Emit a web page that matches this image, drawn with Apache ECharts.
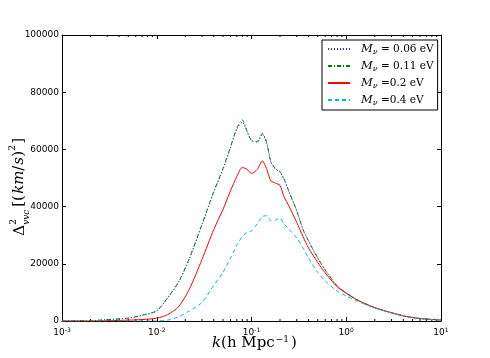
<!DOCTYPE html>
<html>
<head>
<meta charset="utf-8">
<script src="https://cdn.jsdelivr.net/npm/echarts@6/dist/echarts.min.js"></script>
<style>
  html, body { margin: 0; padding: 0; background: #fff; }
  #myChart1 { width: 490px; height: 358px; }
</style>
</head>
<body>
<div id="myChart1"></div>
<script>
// k in h/Mpc, shared by all curves
var kVals = [0.001, 0.002, 0.003, 0.005, 0.007, 0.01, 0.013, 0.017, 0.022, 0.03,
    0.04, 0.05, 0.06, 0.07, 0.08, 0.09, 0.1, 0.115, 0.13, 0.145,
    0.16, 0.18, 0.2, 0.22, 0.25, 0.3, 0.35, 0.4, 0.5, 0.6,
    0.8, 1.0, 1.3, 1.7, 2.2, 3, 4, 5.5, 7.5, 10];

var m006 = [0, 100, 500, 1000, 2000, 3500, 8000, 13500, 21500, 33500,
    45000, 53000, 60500, 67000, 69500, 66000, 63000, 62500, 65300, 62000,
    55500, 53000, 52000, 49500, 45000, 38500, 32000, 28000, 22000, 17800,
    12300, 9800, 7400, 5600, 4200, 2900, 1800, 1000, 600, 350];
var m011 = [0, 100, 500, 1000, 2000, 3600, 8100, 13700, 21800, 33800,
    45300, 53300, 60800, 67500, 70300, 66300, 63200, 62800, 65600, 62300,
    55700, 53200, 52200, 49700, 45100, 38600, 32000, 28000, 22000, 17800,
    12300, 9800, 7400, 5600, 4200, 2900, 1800, 1000, 600, 350];
var m02 = [0, 0, 100, 300, 500, 1000, 2200, 5000, 11000, 21500,
    32000, 39000, 45500, 50500, 53700, 53000, 51600, 53000, 56000, 53000,
    49000, 48200, 47400, 43500, 40000, 34500, 29500, 25500, 20500, 16800,
    12000, 9700, 7400, 5600, 4200, 2900, 1800, 1000, 600, 350];
var m04 = [0, 0, 0, 0, 0, 0, 300, 1500, 3500, 6500,
    12500, 17000, 22000, 26500, 29500, 31000, 31500, 34000, 36500, 36800,
    35000, 35300, 36000, 34000, 32000, 29000, 25500, 22000, 17000, 14000,
    10500, 8800, 7000, 5400, 4100, 2800, 1800, 1000, 600, 350];

var names = ['M006', 'M011', 'M02', 'M04'];
var legendText = {
    M006: '{i|M}{s|ν} = 0.06 eV',
    M011: '{i|M}{s|ν} = 0.11 eV',
    M02: '{i|M}{s|ν} =0.2 eV',
    M04: '{i|M}{s|ν} =0.4 eV'
};
var minorK = [];
[0.001, 0.01, 0.1, 1].forEach(function (d) {
    [2, 3, 4, 5, 6, 7, 8, 9].forEach(function (m) { minorK.push(m * d); });
});

function pairs(vals) {
    return kVals.map(function (k, i) { return [k, vals[i]]; });
}
var expOf = { 0.001: '-3', 0.01: '-2', 0.1: '-1', 1: '0', 10: '1' };

var serif = 'DejaVu Serif';
var lineBase = { symbol: 'none', smooth: 0.25, type: 'line', xAxisIndex: 0, yAxisIndex: 0 };

var myChart = echarts.init(document.getElementById('myChart1'));
var option = {
    animation: false,
    backgroundColor: '#fff',
    grid: { left: 62, right: 49, top: 35, bottom: 37 },
    legend: {
        data: names,
        left: 322, top: 40,
        orient: 'vertical',
        backgroundColor: '#fff',
        borderColor: '#000', borderWidth: 1,
        padding: [3, 4, 3, 5],
        itemWidth: 22, itemHeight: 10, itemGap: 4,
        itemStyle: { opacity: 0 },
        formatter: function (n) { return legendText[n]; },
        textStyle: {
            fontFamily: serif, fontSize: 10.5, color: '#000', padding: [0, 0, 0, 6],
            rich: {
                i: { fontFamily: serif, fontStyle: 'italic', fontSize: 11.5 },
                s: { fontFamily: serif, fontStyle: 'italic', fontSize: 8, verticalAlign: 'bottom', padding: [6, 0, 0, 0] }
            }
        }
    },
    xAxis: [{
        type: 'log', logBase: 10, min: 0.001, max: 10,
        axisLine: { onZero: false, lineStyle: { color: '#000', width: 1 } },
        axisTick: { inside: true, length: 4, lineStyle: { color: '#000' } },
        splitLine: { show: false },
        axisLabel: {
            color: '#000', fontSize: 9, fontFamily: 'DejaVu Sans', margin: 6,
            formatter: function (v) { return '10{e|' + expOf[v] + '}'; },
            rich: { e: { fontSize: 6, verticalAlign: 'top', padding: [0, 0, 6, 0], fontFamily: 'DejaVu Sans' } }
        }
    }, {
        type: 'log', logBase: 10, min: 0.001, max: 10, position: 'top',
        axisLine: { onZero: false, lineStyle: { color: '#000', width: 1 } },
        axisTick: { inside: true, length: 4, lineStyle: { color: '#000' } },
        axisLabel: { show: false },
        splitLine: { show: false }
    }],
    yAxis: [{
        type: 'value', min: 0, max: 100000, interval: 20000,
        axisLine: { show: true, onZero: false, lineStyle: { color: '#000', width: 1 } },
        axisTick: { inside: true, length: 4, lineStyle: { color: '#000' } },
        splitLine: { show: false },
        axisLabel: {
            color: '#000', fontSize: 9, fontFamily: 'DejaVu Sans', margin: 3,
            formatter: function (v) { return String(v); }
        }
    }, {
        type: 'value', min: 0, max: 100000, interval: 20000, position: 'right',
        axisLine: { show: true, onZero: false, lineStyle: { color: '#000', width: 1 } },
        axisTick: { inside: true, length: 4, lineStyle: { color: '#000' } },
        axisLabel: { show: false },
        splitLine: { show: false }
    }],
    graphic: [{
        type: 'group', left: 8, top: 138, rotation: Math.PI / 2,
        children: [
            { type: 'text', x: 0, y: 0, style: { text: 'Δ', font: '15px DejaVu Serif', fill: '#000' } },
            { type: 'text', x: 11, y: -4, style: { text: '2', font: '9px DejaVu Serif', fill: '#000' } },
            { type: 'text', x: 11, y: 9, style: { text: 'vvc', font: 'italic 9px DejaVu Serif', fill: '#000' } },
            { type: 'text', x: 29, y: -1, style: { text: '[(', font: '15px DejaVu Serif', fill: '#000' } },
            { type: 'text', x: 42, y: -1, style: { text: 'km', font: 'italic 15px DejaVu Serif', fill: '#000' } },
            { type: 'text', x: 65, y: -1, style: { text: '/', font: '15px DejaVu Serif', fill: '#000' } },
            { type: 'text', x: 71, y: -1, style: { text: 's', font: 'italic 15px DejaVu Serif', fill: '#000' } },
            { type: 'text', x: 79, y: -1, style: { text: ')', font: '15px DejaVu Serif', fill: '#000' } },
            { type: 'text', x: 85, y: -5, style: { text: '2', font: '9px DejaVu Serif', fill: '#000' } },
            { type: 'text', x: 92, y: -1, style: { text: ']', font: '15px DejaVu Serif', fill: '#000' } }
        ]
    }, {
        type: 'text', left: 212, top: 335,
        style: {
            text: '{i|k}(h Mpc{e|−1})',
            font: '15px DejaVu Serif', fill: '#000',
            rich: {
                i: { fontFamily: serif, fontStyle: 'italic', fontSize: 15 },
                e: { fontFamily: serif, fontSize: 9, verticalAlign: 'top', padding: [0, 2, 8, 1] }
            }
        }
    }],
    series: [
        Object.assign({}, lineBase, {
            name: 'M006', data: pairs(m006),
            lineStyle: { color: '#2222ff', width: 1, type: [1, 2] },
            itemStyle: { color: '#2222ff' }
        }),
        Object.assign({}, lineBase, {
            name: 'M011', data: pairs(m011),
            lineStyle: { color: '#008000', width: 1, type: [4, 2, 1, 2] },
            itemStyle: { color: '#008000' }
        }),
        Object.assign({}, lineBase, {
            name: 'M02', data: pairs(m02),
            lineStyle: { color: '#ff0000', width: 1 },
            itemStyle: { color: '#ff0000' }
        }),
        Object.assign({}, lineBase, {
            name: 'M04', data: pairs(m04),
            lineStyle: { color: '#00bfbf', width: 1, type: [4, 3] },
            itemStyle: { color: '#00bfbf' }
        }),
        {
            type: 'custom', name: 'minor', silent: true, xAxisIndex: 0, yAxisIndex: 0,
            data: minorK.map(function (k) { return [k]; }),
            renderItem: function (params, api) {
                var b = api.coord([api.value(0), 0]);
                var t = api.coord([api.value(0), 100000]);
                var st = { stroke: '#000', lineWidth: 1 };
                return {
                    type: 'group', children: [
                        { type: 'line', shape: { x1: b[0], y1: b[1], x2: b[0], y2: b[1] - 2 }, style: st },
                        { type: 'line', shape: { x1: t[0], y1: t[1], x2: t[0], y2: t[1] + 2 }, style: st }
                    ]
                };
            }
        }
    ]
};
myChart.setOption(option);
</script>
</body>
</html>
